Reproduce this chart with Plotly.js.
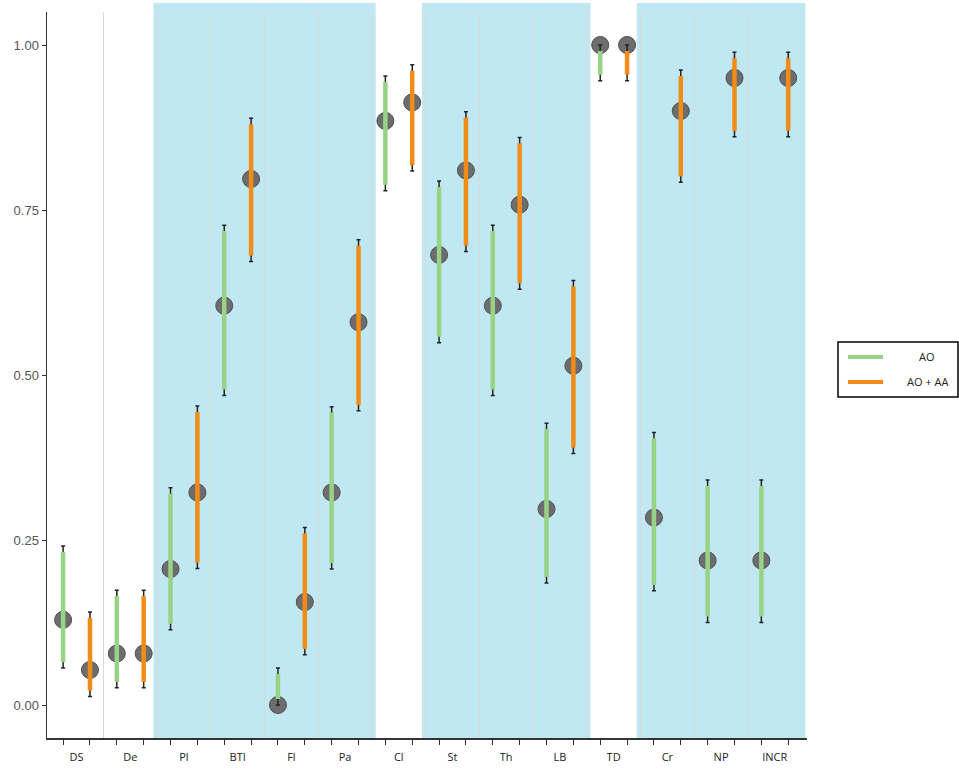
<!DOCTYPE html>
<html>
<head>
<meta charset="utf-8">
<script src="https://cdn.plot.ly/plotly-3.0.1.min.js"></script>
<style>
  html, body { margin: 0; padding: 0; background: #ffffff; }
  #chart { width: 959px; height: 775px; }
</style>
</head>
<body>
<div id="chart"></div>
<script>
// ---- data ----
const categories = ['DS','De','Pl','BTI','Fl','Pa','Cl','St','Th','LB','TD','Cr','NP','INCR'];
const seriesNames = ['AO', 'AO + AA'];

const aoMean = [0.129,0.078,0.206,0.605,0.000,0.322,0.885,0.682,0.605,0.297,1.000,0.284,0.219,0.219];
const aoLow  = [0.056,0.026,0.114,0.469,0.000,0.206,0.779,0.549,0.469,0.185,0.946,0.173,0.125,0.125];
const aoHigh = [0.241,0.174,0.329,0.727,0.056,0.452,0.953,0.794,0.727,0.427,1.000,0.413,0.341,0.341];

const aaMean = [0.053,0.078,0.322,0.797,0.156,0.580,0.913,0.810,0.758,0.514,1.000,0.900,0.950,0.950];
const aaLow  = [0.013,0.026,0.207,0.672,0.076,0.446,0.809,0.687,0.630,0.381,0.946,0.792,0.861,0.861];
const aaHigh = [0.141,0.174,0.453,0.889,0.269,0.705,0.970,0.899,0.860,0.643,1.000,0.962,0.989,0.989];

const shadedGroups = [['Pl','Pa'], ['St','LB'], ['Cr','INCR']];
const yTicks = [0, 0.25, 0.5, 0.75, 1];

// ---- styling ----
const DODGE = 0.25;
const BAR_INSET = 0.009;
const SHADE_PAD = 0.57;
const colors = ['#98d385', '#f28c18'];
const XRANGE = [-0.55, 13.6];

const idx = categories.map((c, i) => i);
const series = [
  {name: seriesNames[0], mean: aoMean, low: aoLow, high: aoHigh, off: -DODGE, color: colors[0]},
  {name: seriesNames[1], mean: aaMean, low: aaLow, high: aaHigh, off: DODGE, color: colors[1]}
];

const traces = [];
// grey circles
series.forEach(s => {
  traces.push({
    type: 'scatter', mode: 'markers', xaxis: 'x', yaxis: 'y',
    x: idx.map(i => i + s.off), y: s.mean,
    marker: {size: 17, color: '#6d6d6d', line: {color: '#4f4f4f', width: 1}},
    showlegend: false, hoverinfo: 'skip'
  });
});
// black whiskers
series.forEach(s => {
  traces.push({
    type: 'scatter', mode: 'markers', xaxis: 'x', yaxis: 'y',
    x: idx.map(i => i + s.off), y: s.mean,
    marker: {size: 1, opacity: 0},
    error_y: {
      type: 'data', symmetric: false,
      array: s.high.map((h, i) => h - s.mean[i]),
      arrayminus: s.low.map((l, i) => s.mean[i] - l),
      color: '#222222', thickness: 1.5, width: 2
    },
    showlegend: false, hoverinfo: 'skip'
  });
});
// coloured interval bars
series.forEach((s, k) => {
  const xs = [], ys = [];
  idx.forEach(i => {
    xs.push(i + s.off, i + s.off, null);
    ys.push(s.low[i] + BAR_INSET, s.high[i] - BAR_INSET, null);
  });
  traces.push({
    type: 'scatter', mode: 'lines', xaxis: 'x', yaxis: 'y',
    x: xs, y: ys, name: s.name,
    line: {color: s.color, width: 4.5},
    showlegend: false, hoverinfo: 'skip'
  });
});
// carrier for the category label axis (no visible marks)
traces.push({
  type: 'scatter', mode: 'markers', xaxis: 'x2', yaxis: 'y',
  x: idx, y: idx.map(() => null), showlegend: false, hoverinfo: 'skip',
  marker: {opacity: 0}
});

const shapes = shadedGroups.map(g => ({
  type: 'rect', xref: 'x', yref: 'paper', layer: 'below',
  x0: categories.indexOf(g[0]) - SHADE_PAD,
  x1: Math.min(categories.indexOf(g[1]) + SHADE_PAD, XRANGE[1]),
  y0: 0, y1: 1.0125,
  fillcolor: '#bfe8f3', line: {width: 0}
}));

// legend box drawn in paper coordinates
const LEG = {x0: 1.0408, x1: 1.1987, y0: 0.4697, y1: 0.5455,
             lineX0: 1.0539, lineX1: 1.1, textX: 1.1579, rows: [0.5248, 0.4904]};
shapes.push({type: 'rect', xref: 'paper', yref: 'paper', x0: LEG.x0, x1: LEG.x1,
  y0: LEG.y0, y1: LEG.y1, line: {color: '#000', width: 1.5}, fillcolor: '#fff'});
const annotations = [];
series.forEach((s, k) => {
  shapes.push({type: 'line', xref: 'paper', yref: 'paper', x0: LEG.lineX0, x1: LEG.lineX1,
    y0: LEG.rows[k], y1: LEG.rows[k], line: {color: s.color, width: 4}});
  annotations.push({xref: 'paper', yref: 'paper', x: LEG.textX, y: LEG.rows[k],
    xanchor: 'center', yanchor: 'middle', showarrow: false, text: s.name,
    font: {family: 'Open Sans, sans-serif', size: 11, color: '#222'}});
});

const pointPositions = [];
idx.forEach(i => { pointPositions.push(i - DODGE, i + DODGE); });

const layout = {
  width: 959, height: 775,
  margin: {l: 47, r: 152, t: 12, b: 37},
  paper_bgcolor: '#ffffff', plot_bgcolor: 'rgba(0,0,0,0)',
  font: {family: 'Liberation Sans, Arial, sans-serif', color: '#333'},
  showlegend: false,
  shapes: shapes,
  annotations: annotations,
  xaxis: {
    range: XRANGE, tickmode: 'array', tickvals: pointPositions,
    showticklabels: false, ticks: 'outside', ticklen: 5, tickwidth: 1, tickcolor: '#333',
    showline: true, linecolor: '#333', linewidth: 1.5,
    showgrid: false, zeroline: false,
    minor: {tickmode: 'array', tickvals: idx.slice(0, -1).map(i => i + 0.5),
            showgrid: true, gridcolor: '#d9d9d9', gridwidth: 1, ticks: ''}
  },
  xaxis2: {
    overlaying: 'x', anchor: 'y', side: 'bottom',
    range: XRANGE, tickmode: 'array', tickvals: idx, ticktext: categories,
    ticks: 'outside', ticklen: 9, tickcolor: 'rgba(0,0,0,0)',
    showline: false, showgrid: false, zeroline: false,
    tickfont: {family: 'Open Sans, sans-serif', size: 11, color: '#222'}
  },
  yaxis: {
    range: [-0.05, 1.05], tickmode: 'array', tickvals: yTicks, tickformat: '.2f',
    ticks: 'outside', ticklen: 4, tickwidth: 1, tickcolor: '#333',
    showline: true, linecolor: '#333', linewidth: 1.5,
    showgrid: false, zeroline: false,
    tickfont: {family: 'Liberation Sans, Arial, sans-serif', size: 13, color: '#555'}
  }
};

Plotly.newPlot('chart', traces, layout, {displayModeBar: false, staticPlot: true});
</script>
</body>
</html>
